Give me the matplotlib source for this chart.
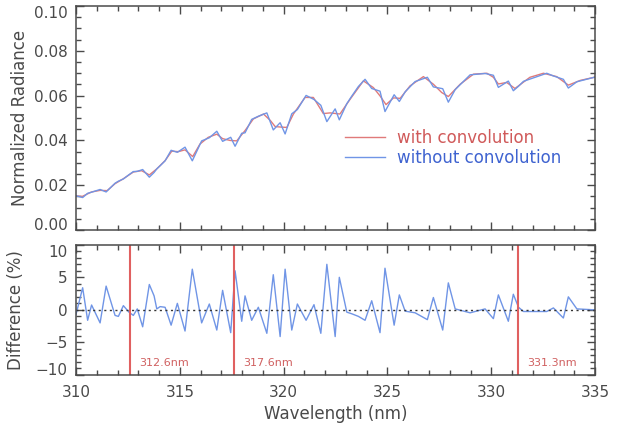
import numpy as np
import matplotlib
matplotlib.use("Agg")
import matplotlib.pyplot as plt
from matplotlib.ticker import MultipleLocator

# radiance with convolution
wl_conv = [310.00, 310.30, 310.75, 311.16, 311.50, 311.88, 312.28, 312.76, 313.16, 313.53,
           313.89, 314.29, 314.61, 314.93, 315.25, 315.62, 315.97, 316.37, 316.78, 317.06,
           317.42, 317.74, 318.14, 318.54, 319.03, 319.35, 319.59, 319.83, 320.15, 320.47,
           321.03, 321.43, 321.91, 322.24, 322.71, 323.20, 323.84, 324.32, 324.64, 324.93,
           325.29, 325.61, 326.09, 326.73, 327.21, 327.61, 327.93, 328.50, 329.14, 329.79,
           330.10, 330.34, 330.74, 331.14, 331.86, 332.51, 333.15, 333.71, 334.28, 335.00]
rad_conv = [0.0152, 0.0150, 0.0170, 0.0177, 0.0176, 0.0207, 0.0229, 0.0259, 0.0265, 0.0246,
            0.0273, 0.0310, 0.0352, 0.0350, 0.0358, 0.0328, 0.0384, 0.0414, 0.0428, 0.0408,
            0.0400, 0.0398, 0.0444, 0.0496, 0.0518, 0.0490, 0.0462, 0.0460, 0.0458, 0.0518,
            0.0592, 0.0592, 0.0520, 0.0523, 0.0518, 0.0584, 0.0666, 0.0636, 0.0599, 0.0560,
            0.0590, 0.0588, 0.0644, 0.0685, 0.0651, 0.0614, 0.0596, 0.0651, 0.0696, 0.0700,
            0.0682, 0.0652, 0.0659, 0.0632, 0.0682, 0.0700, 0.0685, 0.0647, 0.0668, 0.0683]

# wavelengths of the unconvolved curve / difference curve
wl_diff = [310.00, 310.32, 310.56, 310.75, 311.16, 311.45, 311.88, 312.04, 312.28, 312.55,
           312.76, 312.95, 313.21, 313.53, 313.76, 313.89, 314.05, 314.29, 314.58, 314.88,
           315.25, 315.60, 316.05, 316.42, 316.78, 317.06, 317.45, 317.66, 317.98, 318.14,
           318.46, 318.78, 319.19, 319.50, 319.83, 320.07, 320.39, 320.66, 321.08, 321.46,
           321.79, 322.08, 322.48, 322.68, 323.04, 323.28, 323.60, 323.92, 324.24, 324.64,
           324.88, 325.32, 325.57, 325.85, 326.33, 326.92, 327.21, 327.66, 327.93, 328.26,
           328.98, 329.70, 330.10, 330.34, 330.82, 331.06, 331.31, 331.55, 332.67, 332.99,
           333.47, 333.71, 334.12, 335.00]
rad_noconv = [0.0153, 0.0145, 0.0164, 0.0169, 0.0181, 0.0170, 0.0209, 0.0218, 0.0228, 0.0247,
              0.0261, 0.0262, 0.0270, 0.0236, 0.0257, 0.0273, 0.0287, 0.0309, 0.0356, 0.0347,
              0.0370, 0.0309, 0.0398, 0.0412, 0.0441, 0.0396, 0.0414, 0.0374, 0.0432, 0.0434,
              0.0494, 0.0508, 0.0523, 0.0447, 0.0479, 0.0429, 0.0519, 0.0538, 0.0601, 0.0583,
              0.0557, 0.0484, 0.0541, 0.0492, 0.0564, 0.0598, 0.0641, 0.0673, 0.0632, 0.0620,
              0.0529, 0.0604, 0.0574, 0.0617, 0.0663, 0.0682, 0.0639, 0.0631, 0.0571, 0.0627,
              0.0693, 0.0699, 0.0691, 0.0637, 0.0665, 0.0622, 0.0642, 0.0664, 0.0700, 0.0688,
              0.0673, 0.0634, 0.0662, 0.0683]
diff_pct = [-0.7, 3.4, -1.6, 0.75, -2.0, 3.65, -0.85, -1.0, 0.65, -0.35,
            -0.85, 0.15, -2.6, 3.9, 2.15, 0.15, 0.5, 0.4, -2.35, 1.0,
            -3.25, 6.25, -2.0, 0.9, -3.1, 3.0, -3.5, 6.0, -1.75, 2.15,
            -1.6, 0.4, -3.6, 5.4, -4.1, 6.25, -3.1, 0.9, -1.6, 0.8,
            -3.6, 7.0, -4.1, 5.0, -0.35, -0.6, -1.0, -1.6, 1.4, -3.5,
            6.4, -2.35, 2.3, -0.2, -0.45, -1.5, 1.9, -3.1, 4.15, 0.15,
            -0.45, 0.15, -1.35, 2.3, -1.75, 2.4, 0.4, -0.25, -0.25, 0.3,
            -1.25, 2.0, 0.15, 0.0]

marks = [312.6, 317.6, 331.3]
mark_labels = ["312.6nm", "317.6nm", "331.3nm"]

gray = "#4a4a4a"
red_line = "#e07a7a"
blue_line = "#7095e6"

plt.rcParams["font.family"] = "DejaVu Sans"

fig = plt.figure(figsize=(6.18, 4.34), dpi=100)
ax1 = fig.add_axes([0.123, 0.470, 0.840, 0.516])
ax2 = fig.add_axes([0.123, 0.136, 0.840, 0.300])

ax1.plot(wl_conv, rad_conv, color=red_line, lw=1.0, label="with convolution")
ax1.plot(wl_diff, rad_noconv, color=blue_line, lw=1.0, label="without convolution")
ax1.set_xlim(310, 335)
ax1.set_ylim(0, 0.10)
ax1.set_ylabel("Normalized Radiance", fontsize=12, color=gray)
ax1.yaxis.set_label_coords(-0.090, 0.5)
ax1.yaxis.set_major_locator(MultipleLocator(0.02))
ax1.yaxis.set_minor_locator(MultipleLocator(0.005))
ax1.yaxis.set_major_formatter(lambda v, p: f"{v:.2f}")
ax1.tick_params(labelbottom=False)

leg = ax1.legend(loc="upper left", bbox_to_anchor=(0.518, 0.45), frameon=False,
                 fontsize=12, handlelength=2.4, handletextpad=0.7, labelspacing=0.12,
                 borderpad=0, borderaxespad=0)
for t, c in zip(leg.get_texts(), ["#d05a5a", "#3f63d0"]):
    t.set_color(c)

ax2.plot(wl_diff, diff_pct, color=blue_line, lw=1.0)
ax2.axhline(0, color="#333333", lw=1, ls=(0, (1.5, 2.5)))
for m, lab in zip(marks, mark_labels):
    ax2.axvline(m, color="#e06060", lw=1.5)
    ax2.text(m + 0.45, -8.2, lab, color="#d06060", fontsize=8, va="center")
ax2.set_xlim(310, 335)
ax2.set_ylim(-10, 10)
ax2.set_ylabel("Difference (%)", fontsize=12, color=gray)
ax2.yaxis.set_label_coords(-0.098, 0.5)
ax2.set_xlabel("Wavelength (nm)", fontsize=12, color=gray, labelpad=4)
ax2.yaxis.set_major_locator(MultipleLocator(5))
ax2.yaxis.set_minor_locator(MultipleLocator(1))

for ax in (ax1, ax2):
    ax.xaxis.set_major_locator(MultipleLocator(5))
    ax.xaxis.set_minor_locator(MultipleLocator(1))
    ax.tick_params(which="both", direction="in", top=True, right=True, color=gray,
                   labelcolor=gray, labelsize=11, width=1)
    ax.tick_params(which="major", length=6)
    ax.tick_params(which="minor", length=3.5)
    ax.tick_params(axis="y", pad=6)
    ax.tick_params(axis="x", pad=7)
    for s in ax.spines.values():
        s.set_color(gray)
        s.set_linewidth(1.1)

# shift end labels inward like the original
fig.canvas.draw()
shift = {"0.00": "baseline", "0.10": "top", "\u221210": "baseline", "10": "top"}
for ax in (ax1, ax2):
    for lab in ax.get_yticklabels():
        if lab.get_text() in shift:
            lab.set_va(shift[lab.get_text()])

fig.savefig("out.png", dpi=100)
